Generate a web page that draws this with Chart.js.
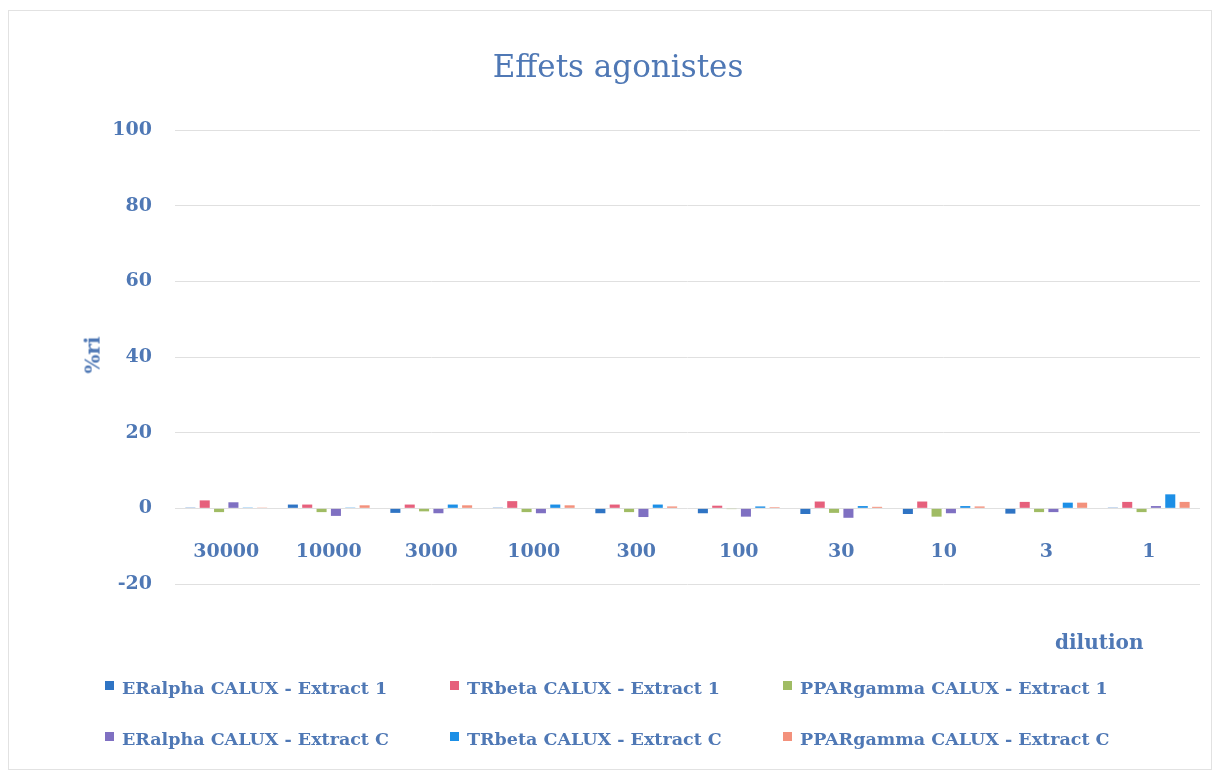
<!DOCTYPE html>
<html>
<head>
<meta charset="utf-8">
<script src="https://cdn.jsdelivr.net/npm/chart.js@4"></script>
<style>
  body { margin: 0; background: #fff; }
  #wrap { position: relative; width: 1218px; height: 773px; font-family: "DejaVu Serif", serif; color: #4f78b5; }
  #frame { position: absolute; left: 8px; top: 10px; width: 1202px; height: 758px; border: 1px solid #e2e2e2; }
  canvas { position: absolute; left: 0; top: 0; }
  .txt { position: absolute; white-space: nowrap; }
  #title { left: 0; width: 1236px; top: 48px; text-align: center; font-size: 31px; }
  #ytitle { left: 74px; top: 343px; font-size: 20px; font-weight: bold; transform: rotate(-90deg); transform-origin: center; }
  #xtitle { left: 1055px; top: 630px; font-size: 20px; font-weight: bold; }
  .leg { position: absolute; font-size: 17.5px; font-weight: bold; white-space: nowrap; }
  .leg i { display: inline-block; width: 9px; height: 9px; margin-right: 8px; vertical-align: 4px; }
</style>
</head>
<body>
<div id="wrap">
  <div id="frame"></div>
  <canvas id="chart" width="1218" height="773"></canvas>
  <div class="txt" id="title">Effets agonistes</div>
  <div class="txt" id="ytitle">%ri</div>
  <div class="txt" id="xtitle">dilution</div>
  <div id="legend"></div>
</div>
<script>
// dilution categories
var dilutions = ['30000', '10000', '3000', '1000', '300', '100', '30', '10', '3', '1'];

// %ri values
var erAlpha1     = [0.2, 1.0, -1.2, 0.2, -1.3, -1.3, -1.5, -1.5, -1.4, 0.2];
var trBeta1      = [2.1, 1.0, 1.0, 1.9, 1.0, 0.7, 1.8, 1.8, 1.7, 1.7];
var pparGamma1   = [-1.0, -1.0, -0.8, -1.0, -1.0, -0.2, -1.2, -2.2, -1.0, -1.0];
var erAlphaC     = [1.6, -2.0, -1.3, -1.3, -2.3, -2.2, -2.5, -1.3, -1.0, 0.6];
var trBetaC      = [0.2, 0.2, 1.0, 1.0, 1.0, 0.5, 0.6, 0.6, 1.5, 3.7];
var pparGammaC   = [0.2, 0.8, 0.8, 0.8, 0.5, 0.3, 0.4, 0.5, 1.5, 1.7];

var seriesNames = [
    'ERalpha CALUX - Extract 1', 'TRbeta CALUX - Extract 1', 'PPARgamma CALUX - Extract 1',
    'ERalpha CALUX - Extract C', 'TRbeta CALUX - Extract C', 'PPARgamma CALUX - Extract C'
];
var seriesValues = [erAlpha1, trBeta1, pparGamma1, erAlphaC, trBetaC, pparGammaC];
var seriesColors = ['#2f74c4', '#e6607c', '#a0bc64', '#7f70c2', '#1c8fe6', '#f3917c'];

var datasets = [];
for (var i = 0; i < seriesNames.length; i++) {
    datasets.push({
        label: seriesNames[i],
        data: seriesValues[i],
        backgroundColor: seriesColors[i],
        categoryPercentage: 0.84,
        barPercentage: 0.7
    });
}

// legend in 3 columns, like the original
var legendPos = [[105, 678], [450, 678], [783, 678], [105, 729], [450, 729], [783, 729]];
var legendEl = document.getElementById('legend');
seriesNames.forEach(function (name, i) {
    var d = document.createElement('div');
    d.className = 'leg';
    d.style.left = legendPos[i][0] + 'px';
    d.style.top = legendPos[i][1] + 'px';
    d.innerHTML = '<i style="background:' + seriesColors[i] + '"></i>' + name;
    legendEl.appendChild(d);
});

var tickFont = { family: 'DejaVu Serif', size: 19, weight: 'bold' };

new Chart(document.getElementById('chart').getContext('2d'), {
    type: 'bar',
    data: { labels: dilutions, datasets: datasets },
    options: {
        responsive: false,
        animation: false,
        devicePixelRatio: 1,
        layout: { padding: { left: 0, right: 18, top: 130, bottom: 189 } },
        plugins: { legend: { display: false }, title: { display: false }, tooltip: { enabled: false } },
        scales: {
            x: {
                position: { y: 0 },
                grid: { display: false },
                border: { display: false },
                ticks: { color: '#4f78b5', font: tickFont, padding: 24, maxRotation: 0 },
                afterFit: function (s) { s.height = 0; }
            },
            y: {
                min: -20,
                max: 100,
                ticks: { stepSize: 20, color: '#4f78b5', font: tickFont, padding: 23 },
                grid: { color: '#e0e0e0', drawTicks: false },
                border: { display: false },
                afterFit: function (s) { s.width = 175; }
            }
        }
    }
});
</script>
</body>
</html>
